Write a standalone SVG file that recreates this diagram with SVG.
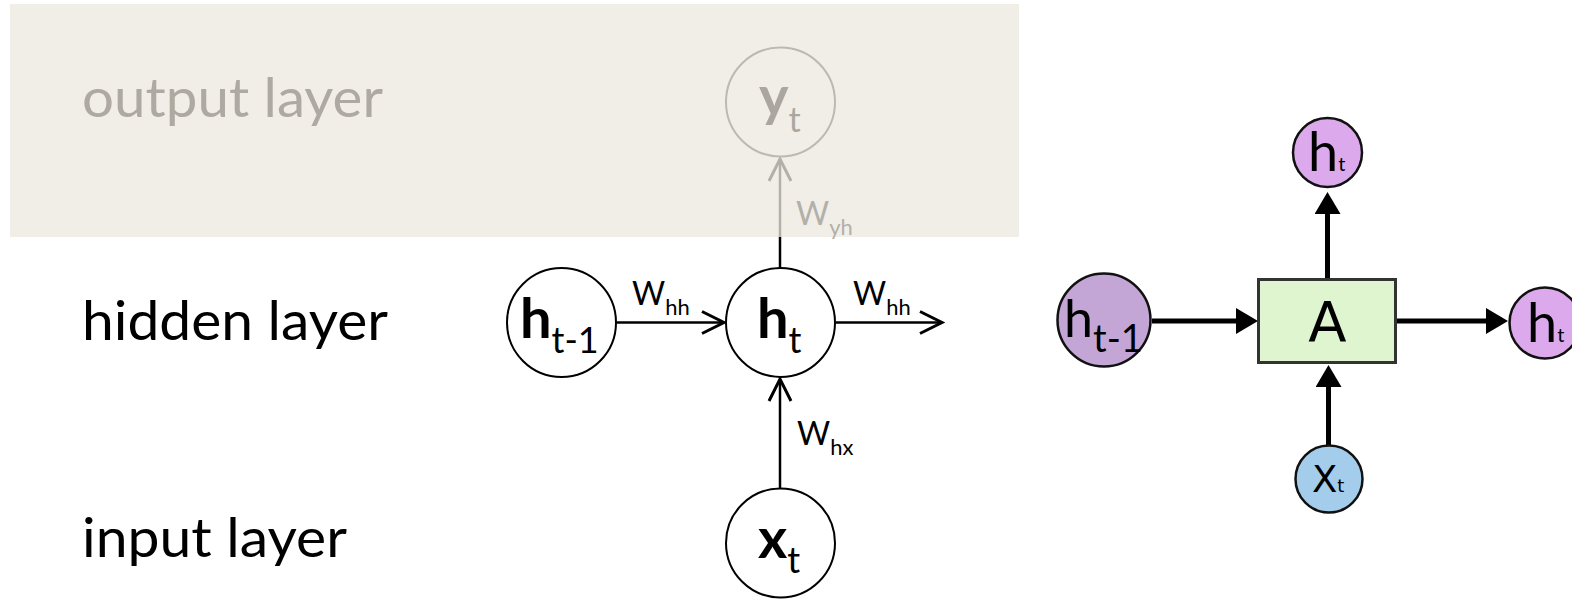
<svg xmlns="http://www.w3.org/2000/svg" width="1572" height="600" viewBox="0 0 1572 600">
  <style>
    .layer { font-family: Lato, "Open Sans", "Liberation Sans", sans-serif; font-size: 55px; }
    .lbl { font-family: Lato, "Open Sans", "Liberation Sans", sans-serif; }
    .node { fill: #ffffff; stroke: #000000; stroke-width: 2; }
    .ghost { fill: none; stroke: #bcb9b2; stroke-width: 2; }
    .edge { stroke: #000000; stroke-width: 2.5; fill: none; }
    .cell { stroke: #000000; stroke-width: 5; fill: none; }
    .rnode { stroke: #111111; stroke-width: 2.5; }
  </style>
  <defs>
    <marker id="open" markerUnits="userSpaceOnUse" markerWidth="30" markerHeight="30" viewBox="0 0 30 30" refX="24" refY="15" orient="auto">
      <path d="M2,4 L24,15 L2,26" fill="none" stroke="#000" stroke-width="3"/>
    </marker>
    <marker id="openGrey" markerUnits="userSpaceOnUse" markerWidth="30" markerHeight="30" viewBox="0 0 30 30" refX="24" refY="15" orient="auto">
      <path d="M2,4 L24,15 L2,26" fill="none" stroke="#b3b0a9" stroke-width="3"/>
    </marker>
    <marker id="solid" markerUnits="userSpaceOnUse" markerWidth="24" markerHeight="26" viewBox="0 0 24 26" refX="1" refY="13" orient="auto">
      <path d="M0,0 L22,13 L0,26 Z" fill="#000"/>
    </marker>
  </defs>

  <!-- shaded output band -->
  <rect x="10" y="4" width="1009" height="233" fill="#f1eee8"/>

  <!-- layer captions -->
  <text class="layer" x="82" y="117" fill="#aeaaa2" textLength="301" lengthAdjust="spacingAndGlyphs">output layer</text>
  <text class="layer" x="82" y="340" fill="#000" textLength="306" lengthAdjust="spacingAndGlyphs">hidden layer</text>
  <text class="layer" x="82" y="557" fill="#000" textLength="265" lengthAdjust="spacingAndGlyphs">input layer</text>

  <!-- unrolled RNN connectors -->
  <g id="connectors">
    <line class="edge" x1="617" y1="322.5" x2="724" y2="322.5" marker-end="url(#open)"/>
    <line class="edge" x1="836" y1="322.5" x2="942" y2="322.5" marker-end="url(#open)"/>
    <line class="edge" x1="780" y1="268" x2="780" y2="237"/>
    <line x1="780" y1="237" x2="780" y2="159" stroke="#b3b0a9" stroke-width="2.5" marker-end="url(#openGrey)"/>
    <line class="edge" x1="780" y1="488" x2="780" y2="379" marker-end="url(#open)"/>

    <!-- compact cell connectors -->
    <line class="cell" x1="1327.5" y1="280" x2="1327.5" y2="213" marker-end="url(#solid)"/>
    <line class="cell" x1="1152" y1="321" x2="1237" y2="321" marker-end="url(#solid)"/>
    <line class="cell" x1="1396" y1="321" x2="1487" y2="321" marker-end="url(#solid)"/>
    <line class="cell" x1="1328.5" y1="445" x2="1328.5" y2="386" marker-end="url(#solid)"/>
  </g>

  <!-- weight labels -->
  <g id="weights" class="lbl">
    <text x="632" y="305" font-size="32">W<tspan font-size="22" dy="10">hh</tspan></text>
    <text x="853" y="305" font-size="32">W<tspan font-size="22" dy="10">hh</tspan></text>
    <text x="796" y="225" font-size="32" fill="#b3b0a9">W<tspan font-size="22" dy="10">yh</tspan></text>
    <text x="797" y="445" font-size="32">W<tspan font-size="22" dy="10">hx</tspan></text>
  </g>

  <!-- unrolled nodes -->
  <g id="node-yt">
    <circle class="ghost" cx="780.5" cy="102" r="54.5"/>
    <text class="lbl" x="759" y="116" font-size="56" font-weight="bold" fill="#aba79f">y<tspan font-size="34" font-weight="normal" dy="16">t</tspan></text>
  </g>
  <g id="node-ht-1">
    <circle class="node" cx="561.5" cy="322.5" r="54.5"/>
    <text class="lbl" x="520" y="338" font-size="56" font-weight="bold">h<tspan font-size="36" font-weight="normal" dy="15">t-1</tspan></text>
  </g>
  <g id="node-ht">
    <circle class="node" cx="780.5" cy="322.5" r="54.5"/>
    <text class="lbl" x="757" y="338" font-size="56" font-weight="bold">h<tspan font-size="36" font-weight="normal" dy="15">t</tspan></text>
  </g>
  <g id="node-xt">
    <circle class="node" cx="780.5" cy="543" r="54.5"/>
    <text class="lbl" x="758" y="558" font-size="56" font-weight="bold">x<tspan font-size="36" font-weight="normal" dy="15">t</tspan></text>
  </g>

  <!-- compact RNN cell -->
  <g id="cell-A">
    <rect x="1258.5" y="279.5" width="137" height="83" fill="#dff5cf" stroke="#333333" stroke-width="3"/>
    <text x="1327.5" y="341" font-family="'DejaVu Sans', Verdana, sans-serif" font-size="56" text-anchor="middle">A</text>
  </g>
  <g id="cell-ht-out">
    <circle class="rnode" cx="1327.5" cy="152.5" r="34.5" fill="#dcaaec"/>
    <text class="lbl" x="1308" y="171" font-size="54">h<tspan font-size="20">t</tspan></text>
  </g>
  <g id="cell-ht-1">
    <circle class="rnode" cx="1104" cy="320" r="46.5" fill="#c3a5d6"/>
    <text class="lbl" x="1064" y="337" font-size="52">h<tspan font-size="38" dy="15">t-1</tspan></text>
  </g>
  <g id="cell-ht-next">
    <circle class="rnode" cx="1545" cy="323" r="35.5" fill="#dcaaec"/>
    <text class="lbl" x="1527" y="342" font-size="54">h<tspan font-size="20">t</tspan></text>
  </g>
  <g id="cell-xt">
    <circle class="rnode" cx="1329" cy="479" r="33.5" fill="#a4cdeb"/>
    <text x="1312" y="492" font-family="'DejaVu Sans', Verdana, sans-serif" font-size="37">X<tspan font-size="18">t</tspan></text>
  </g>
</svg>
